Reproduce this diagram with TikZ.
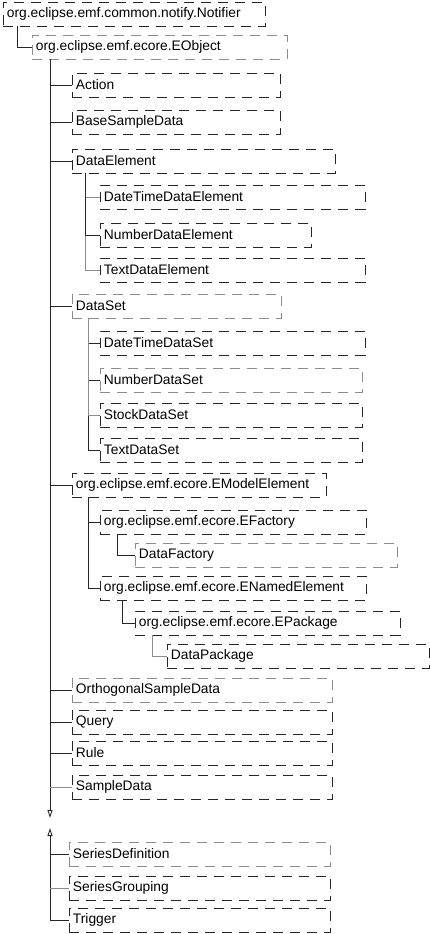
\documentclass[tikz,border=0pt]{standalone}
\usepackage{fontspec}
\setmainfont{Liberation Sans}
\usepackage{xcolor}
\usepackage{tikz}
\usetikzlibrary{arrows.meta, calc, positioning}
\definecolor{Ink}{HTML}{262626}
\definecolor{Pale}{HTML}{8C8C8C}
\tikzset{
  cls/.style={draw=Ink, dash pattern=on 10pt off 7pt, line width=0.9pt, anchor=west,
    minimum height=24pt, inner xsep=3.5pt, align=left, font=\fontsize{13.8}{16}\selectfont},
  clspale/.style={cls, draw=Pale},
  link/.style={draw=Ink, line width=0.9pt},
  linkpale/.style={link, draw=Pale},
  cut/.style={link, -{Triangle[open, length=8pt, width=5pt]}},
}

\begin{document}
\begin{tikzpicture}[x=1pt, y=-1pt]
  \useasboundingbox (0,0) rectangle (430,934);

  % Root and EObject
  \node[cls, text width=255pt] (notifier) at (3,14) {org.eclipse.emf.common.notify.Notifier};
  \node[clspale, text width=248pt] (eobject) at (32,47) {org.eclipse.emf.ecore.EObject};
  \draw[link] (notifier.south west) ++(14,0) |- (eobject.west);

  % First level under EObject
  \node[cls, text width=201pt] (action) at (72,85) {Action};
  \node[cls, text width=201pt] (basesample) at (72,122) {BaseSampleData};
  \node[cls, text width=256pt] (dataelement) at (72,161) {DataElement};
  \node[clspale, text width=202pt] (dataset) at (72,306) {DataSet};
  \node[cls, text width=247pt] (modelelement) at (72,485) {org.eclipse.emf.ecore.EModelElement};
  \node[clspale, text width=253pt] (orthosample) at (72,690) {OrthogonalSampleData};
  \node[cls, text width=253pt] (query) at (72,722) {Query};
  \node[cls, text width=253pt] (rule) at (72,753) {Rule};
  \node[cls, text width=253pt] (sampledata) at (72,787) {SampleData};
  \node[clspale, text width=254pt] (seriesdef) at (69,854) {SeriesDefinition};
  \node[cls, text width=254pt] (seriesgroup) at (69,888) {SeriesGrouping};
  \node[cls, text width=254pt] (trigger) at (69,920) {Trigger};

  % DataElement subtypes
  \node[cls, text width=258pt] (datetimeelem) at (100,197) {DateTimeDataElement};
  \node[cls, text width=204pt] (numberelem) at (100,235) {NumberDataElement};
  \node[cls, text width=258pt] (textelem) at (100,270) {TextDataElement};

  % DataSet subtypes
  \node[cls, text width=258pt] (datetimeset) at (100,343) {DateTimeDataSet};
  \node[clspale, text width=255pt] (numberset) at (100,380) {NumberDataSet};
  \node[cls, text width=255pt] (stockset) at (100,415) {StockDataSet};
  \node[cls, text width=255pt] (textset) at (100,450) {TextDataSet};

  % EModelElement subtree
  \node[cls, text width=259pt] (efactory) at (100,522) {org.eclipse.emf.ecore.EFactory};
  \node[clspale, text width=255pt] (datafactory) at (135,555) {DataFactory};
  \node[cls, text width=259pt] (namedelement) at (100,588) {org.eclipse.emf.ecore.ENamedElement};
  \node[cls, text width=258pt] (epackage) at (135,623) {org.eclipse.emf.ecore.EPackage};
  \node[cls, text width=255pt] (datapackage) at (167,656) {DataPackage};

  % Trunk from EObject, cut in two
  \coordinate (trunk) at ($(eobject.south west)+(18,0)$);
  \coordinate (cutlow) at (50,818);
  \coordinate (cuthigh) at (50,828);
  \draw[cut] (trunk) -- (cutlow);
  \draw[link, {Triangle[open, length=8pt, width=5pt]}-] (cuthigh) |- (trigger.west);
  \foreach \n in {action, basesample, dataelement, dataset, modelelement, orthosample, query, rule, seriesdef}
    \draw[link] (trunk |- \n.west) -- (\n.west);
  \foreach \n in {sampledata, seriesgroup}
    \draw[linkpale] (trunk |- \n.west) -- (\n.west);

  % Branches below
  \draw[linkpale] (dataelement.south west) ++(13,0) |- (textelem.west);
  \draw[linkpale] (dataelement.south west) ++(13,0) |- (datetimeelem.west);
  \draw[link] (dataelement.south west) ++(13,0) |- (numberelem.west);
  \draw[link] (dataset.south west) ++(16,0) |- (textset.west);
  \foreach \n in {datetimeset, numberset}
    \draw[link] (dataset.south west) ++(16,0) |- (\n.west);
  \draw[linkpale] (dataset.south west) ++(16,0) |- (stockset.west);
  \draw[link] (modelelement.south west) ++(16,0) |- (namedelement.west);
  \draw[link] (modelelement.south west) ++(16,0) |- (efactory.west);
  \draw[link] (efactory.south west) ++(17,0) |- (datafactory.west);
  \draw[link] (namedelement.south west) ++(22,0) |- (epackage.west);
  \draw[linkpale] (epackage.south west) ++(17,0) |- (datapackage.west);
\end{tikzpicture}
\end{document}
